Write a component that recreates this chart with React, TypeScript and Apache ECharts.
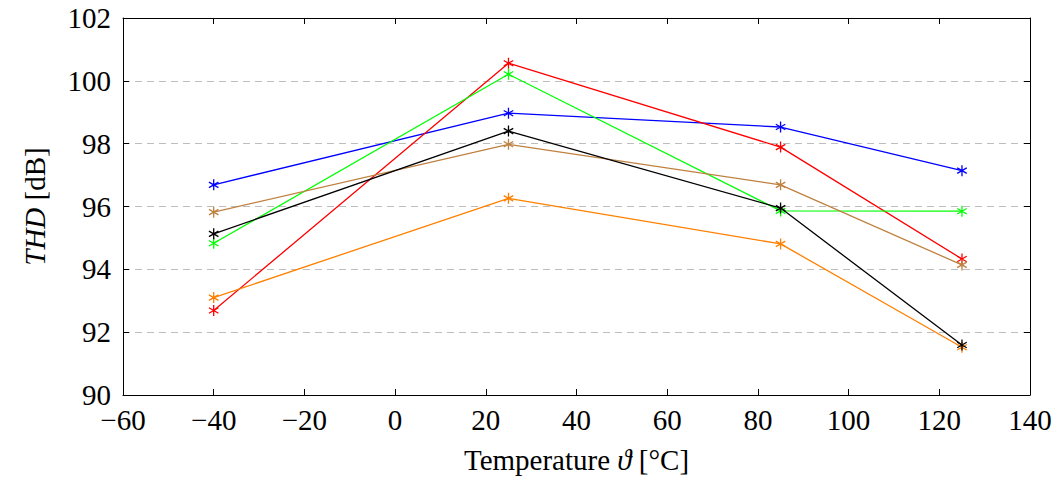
import React, { useEffect, useRef } from "react";
import * as echarts from "echarts";

const temperatures = [-40, 25, 85, 125];
const blueTHD = [96.69, 98.97, 98.53, 97.14];
const redTHD = [92.69, 100.56, 97.89, 94.33];
const greenTHD = [94.83, 100.21, 95.86, 95.85];
const blackTHD = [95.13, 98.4, 95.95, 91.59];
const brownTHD = [95.82, 97.98, 96.69, 94.14];
const orangeTHD = [93.1, 96.26, 94.81, 91.52];

const seriesDefs = [
  { name: "blue", color: "#0000ff", values: blueTHD },
  { name: "red", color: "#ff0000", values: redTHD },
  { name: "green", color: "#00ff00", values: greenTHD },
  { name: "brown", color: "#bf8040", values: brownTHD },
  { name: "orange", color: "#ff8000", values: orangeTHD },
  { name: "black", color: "#000000", values: blackTHD },
];

const asterisk =
  "path://M0,-1L0,1M-0.866,-0.5L0.866,0.5M-0.866,0.5L0.866,-0.5";

const FONT = "'Liberation Serif', 'DejaVu Serif', serif";

export default function App() {
  const ref = useRef<HTMLDivElement>(null);
  useEffect(() => {
    if (!ref.current) return;
    const chart = echarts.init(ref.current, null, { renderer: "svg" });
    const fmt = (v: number) => String(v).replace("-", "\u2212");
    const tickStyle = { lineStyle: { color: "#000", width: 1 } };
    const line = { show: true, onZero: false, lineStyle: { color: "#000", width: 1 } };
    chart.setOption({
      animation: false,
      backgroundColor: "#fff",
      grid: { left: 123, right: 31, top: 18, bottom: 90, containLabel: false },
      xAxis: [
        {
          type: "value",
          min: -60,
          max: 140,
          interval: 20,
          position: "bottom",
          axisLine: line,
          axisTick: { show: true, inside: true, length: 6, ...tickStyle },
          axisLabel: {
            color: "#000",
            fontFamily: FONT,
            fontSize: 29,
            margin: 10,
            formatter: fmt,
          },
          splitLine: { show: false },
          name: "Temperature {i|\u03d1} [\u00b0C]",
          nameLocation: "middle",
          nameGap: 50,
          nameTextStyle: {
            color: "#000",
            fontFamily: FONT,
            fontSize: 29,
            rich: {
              i: { fontFamily: FONT, fontSize: 29, fontStyle: "italic", color: "#000" },
            },
          },
        },
        {
          type: "value",
          min: -60,
          max: 140,
          interval: 20,
          position: "top",
          axisLine: line,
          axisTick: { show: true, inside: true, length: 6, ...tickStyle },
          axisLabel: { show: false },
          splitLine: { show: false },
        },
      ],
      yAxis: [
        {
          type: "value",
          min: 90,
          max: 102,
          interval: 2,
          position: "left",
          axisLine: line,
          axisTick: { show: true, inside: true, length: 6, ...tickStyle },
          axisLabel: {
            color: "#000",
            fontFamily: FONT,
            fontSize: 29,
            margin: 12,
          },
          splitLine: {
            show: true,
            lineStyle: { color: "#bdbdbd", width: 1, type: [7, 5] },
          },
          name: "{i|THD} [dB]",
          nameLocation: "middle",
          nameGap: 74,
          nameRotate: 90,
          nameTextStyle: {
            color: "#000",
            fontFamily: FONT,
            fontSize: 29,
            rich: {
              i: { fontFamily: FONT, fontSize: 29, fontStyle: "italic", color: "#000" },
            },
          },
        },
        {
          type: "value",
          min: 90,
          max: 102,
          interval: 2,
          position: "right",
          axisLine: line,
          axisTick: { show: true, inside: true, length: 6, ...tickStyle },
          axisLabel: { show: false },
          splitLine: { show: false },
        },
      ],
      series: seriesDefs.map((s) => ({
        type: "line",
        name: s.name,
        xAxisIndex: 0,
        yAxisIndex: 0,
        data: temperatures.map((t, i) => [t, s.values[i]]),
        symbol: asterisk,
        symbolSize: 11,
        symbolKeepAspect: true,
        showSymbol: true,
        lineStyle: { color: s.color, width: 1.3 },
        itemStyle: { color: s.color, borderColor: s.color, borderWidth: 1.3 },
        emphasis: { disabled: true },
      })),
    });
    return () => chart.dispose();
  }, []);
  return (
    <div
      ref={ref}
      style={{ position: "absolute", left: 0, top: 0, width: 1061, height: 485 }}
    />
  );
}
